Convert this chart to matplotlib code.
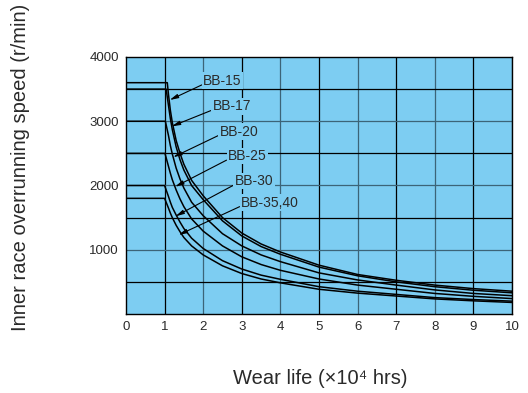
import matplotlib
matplotlib.use("Agg")
import matplotlib.pyplot as plt

plt.rcParams['font.family'] = ['Liberation Sans', 'DejaVu Sans']

# wear life (x10^4 hrs) sample points shared by every curve after the knee
life = [1.1, 1.15, 1.2, 1.3, 1.4, 1.5, 1.7, 2.0, 2.5, 3.0, 3.5, 4, 5, 6, 7, 8, 9, 10]

models = ["BB-15", "BB-17", "BB-20", "BB-25", "BB-30", "BB-35,40"]
max_speed = [3600, 3500, 3000, 2500, 2000, 1800]
knee = [1.07, 1.04, 1.02, 1.01, 1.0, 1.0]

speed = {
    "BB-15":    [3420, 3170, 2980, 2700, 2500, 2330, 2080, 1840, 1500, 1260, 1090, 965, 760, 615, 525, 450, 395, 355],
    "BB-17":    [3250, 3040, 2870, 2600, 2400, 2240, 2000, 1780, 1450, 1215, 1050, 930, 730, 595, 500, 425, 370, 330],
    "BB-20":    [2780, 2620, 2490, 2270, 2100, 1960, 1740, 1530, 1250, 1060, 920, 815, 640, 530, 450, 375, 320, 285],
    "BB-25":    [2300, 2190, 2090, 1930, 1790, 1670, 1480, 1290, 1060, 890, 770, 680, 545, 450, 385, 320, 275, 240],
    "BB-30":    [1830, 1740, 1660, 1540, 1430, 1330, 1180, 1020, 830, 700, 605, 540, 425, 355, 305, 255, 225, 200],
    "BB-35,40": [1650, 1570, 1500, 1380, 1280, 1190, 1060, 920, 750, 630, 545, 485, 385, 325, 280, 235, 205, 180],
}

# label text position and arrow tip (data coords)
label_pos = [(2.0, 3630), (2.24, 3230), (2.42, 2840), (2.64, 2460), (2.82, 2070), (2.98, 1735)]
arrow_tip = [(1.13, 3330), (1.18, 2920), (1.22, 2440), (1.27, 1980), (1.28, 1520), (1.36, 1230)]

bg = '#7dcdf2'
slate = '#3c6478'
txt = '#2a2a2a'

fig = plt.figure(figsize=(5.28, 3.93), dpi=100)
ax = fig.add_axes([0.2386, 0.201, 0.7311, 0.654])
ax.set_facecolor(bg)
ax.set_xlim(0, 10)
ax.set_ylim(0, 4000)

# grid
for i in range(1, 11):
    ax.axvline(i, color=slate if i % 2 == 0 else 'black', lw=0.9, zorder=1)
for v in range(500, 4000, 500):
    ax.axhline(v, color=slate if v % 1000 == 0 else 'black', lw=0.9, zorder=1)

for i, m in enumerate(models):
    xs = [0, knee[i]] + life
    ys = [max_speed[i], max_speed[i]] + speed[m]
    ax.plot(xs, ys, color='black', lw=1.1, zorder=3)

for i, m in enumerate(models):
    ax.annotate(m, xy=arrow_tip[i], xytext=label_pos[i], color=txt,
                fontsize=10, ha='left', va='center', zorder=5,
                bbox=dict(boxstyle='square,pad=0.1', fc=bg, ec='none'),
                arrowprops=dict(arrowstyle='-|>,head_length=0.5,head_width=0.12',
                                color='black', lw=0.8, shrinkA=0, shrinkB=0,
                                relpos=(0, 0.25)))

ax.set_xticks(range(0, 11))
ax.set_yticks([1000, 2000, 3000, 4000])
ax.tick_params(length=0, labelsize=9.5, colors=txt, pad=5)
for s in ax.spines.values():
    s.set_linewidth(1.0)
    s.set_color('black')

fig.text(0.038, 0.575, 'Inner race overrunning speed (r/min)', rotation=90,
         ha='center', va='center', fontsize=14.5, color=txt)
fig.text(0.606, 0.038, 'Wear life (\u00d710\u2074 hrs)', ha='center', va='center',
         fontsize=14.5, color=txt)

fig.savefig('out.png', dpi=100)
